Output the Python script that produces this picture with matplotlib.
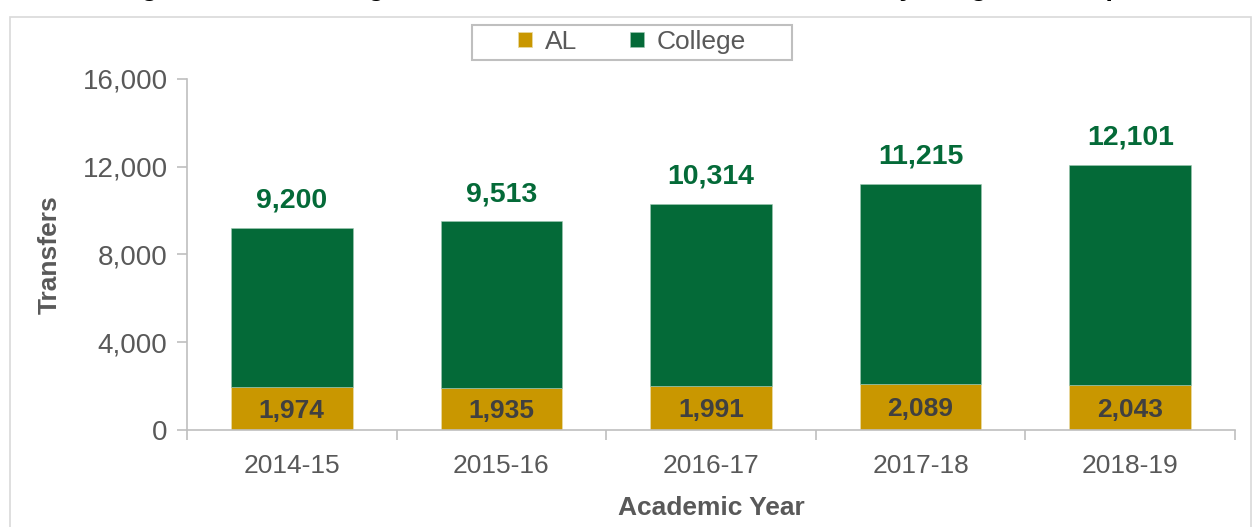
import matplotlib.pyplot as plt
import matplotlib.patches as mpatches
from matplotlib.ticker import FuncFormatter, FixedLocator

plt.rcParams["font.family"] = ["Liberation Sans", "DejaVu Sans"]

years = ["2014-15", "2015-16", "2016-17", "2017-18", "2018-19"]
al_values = [1974, 1935, 1991, 2089, 2043]
total_values = [9200, 9513, 10314, 11215, 12101]
college_values = [t - a for t, a in zip(total_values, al_values)]

GOLD = "#C99700"
GREEN = "#046A38"
GRAY = "#595959"
AXIS_GRAY = "#BFBFBF"

fig = plt.figure(figsize=(12.55, 5.27), dpi=100)
ax = fig.add_axes([187 / 1255, 1 - 430 / 527, 1048 / 1255, 351 / 527])

x = list(range(len(years)))
ax.bar(x, al_values, width=0.58, color=GOLD, edgecolor="#E8D9A0", linewidth=0.6,
       label="AL", zorder=2)
ax.bar(x, college_values, width=0.58, bottom=al_values, color=GREEN,
       edgecolor="#9FC9B4", linewidth=0.4, label="College", zorder=2)

for xi, a, t in zip(x, al_values, total_values):
    ax.text(xi, a / 2 - 100, f"{a:,}", ha="center", va="center", fontsize=19,
            fontweight="bold", color="#404040")
    ax.text(xi, t + 650, f"{t:,}", ha="center", va="bottom", fontsize=20.5,
            fontweight="bold", color=GREEN)

ax.set_xlim(-0.5, len(years) - 0.5)
ax.set_ylim(0, 16000)
ax.set_yticks([0, 4000, 8000, 12000, 16000])
ax.yaxis.set_major_formatter(FuncFormatter(lambda v, p: f"{int(v):,}"))
ax.set_xticks(x)
ax.set_xticklabels(years)
ax.xaxis.set_minor_locator(FixedLocator([i - 0.5 for i in range(len(years) + 1)]))
ax.tick_params(axis="x", which="major", length=0, labelsize=19, labelcolor=GRAY, pad=17)
ax.tick_params(axis="x", which="minor", length=7, color=AXIS_GRAY, width=1.2)
ax.tick_params(axis="y", length=7, color=AXIS_GRAY, width=1.2, labelsize=20,
               labelcolor=GRAY, pad=7)

for side in ["top", "right"]:
    ax.spines[side].set_visible(False)
for side in ["left", "bottom"]:
    ax.spines[side].set_color(AXIS_GRAY)
    ax.spines[side].set_linewidth(1.2)

ax.set_ylabel("Transfers", fontsize=19, fontweight="bold", color=GRAY, labelpad=15)
ax.set_xlabel("Academic Year", fontsize=19, fontweight="bold", color=GRAY, labelpad=13)

leg = ax.legend(loc="center", bbox_to_anchor=(632 / 1255, 1 - 42 / 527),
                bbox_transform=fig.transFigure, ncol=2, fontsize=19, frameon=False,
                handlelength=0.53, handleheight=0.5, columnspacing=2.0,
                handletextpad=0.5, borderpad=0, borderaxespad=0)
for t in leg.get_texts():
    t.set_color(GRAY)

# legend box
fig.patches.append(mpatches.Rectangle((472 / 1255, 1 - 60 / 527), 320 / 1255, 35 / 527,
                                      transform=fig.transFigure, fill=False,
                                      edgecolor="#BFBFBF", linewidth=1.5))

# outer chart frame
fig.patches.append(mpatches.Rectangle((10 / 1255, -0.01), 1241 / 1255, 1 - 17 / 527 + 0.01,
                                      transform=fig.transFigure, fill=False,
                                      edgecolor="#D9D9D9", linewidth=1.2))

# title, cut off at the top of the image
fig.text(0.5, 1 + 4 / 527,
         "Figure 1. Total College Transfers and AL Transfers to University, Program Groups",
         ha="center", va="baseline", fontsize=19, fontweight="bold", color="black")

fig.savefig("out.png", dpi=100)
